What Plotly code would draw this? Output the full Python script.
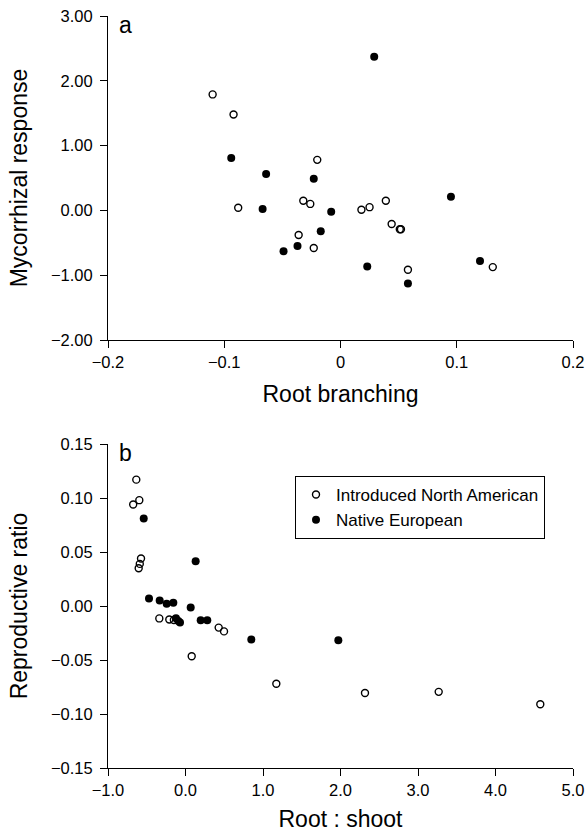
import plotly.graph_objects as go

# Panel a: Root branching vs Mycorrhizal response
a_intro_x = [-0.110, -0.092, -0.020, -0.032, -0.026, -0.088, 0.018, 0.025,
             -0.036, -0.023, 0.039, 0.044, 0.051, 0.052, 0.131, 0.058]
a_intro_y = [1.79, 1.48, 0.78, 0.15, 0.10, 0.04, 0.01, 0.05,
             -0.38, -0.58, 0.15, -0.21, -0.29, -0.29, -0.875, -0.915]
a_native_x = [0.029, -0.094, -0.064, -0.023, -0.067, -0.008, -0.017,
              -0.037, -0.049, 0.023, 0.095, 0.120, 0.058]
a_native_y = [2.37, 0.81, 0.56, 0.49, 0.02, -0.02, -0.32,
              -0.55, -0.63, -0.865, 0.21, -0.78, -1.13]

# Panel b: Root:shoot vs Reproductive ratio
b_intro_x = [-0.635, -0.596, -0.675, -0.574, -0.590, -0.604, -0.338, -0.209,
             -0.150, 0.080, 0.428, 0.497, 1.172, 2.316, 3.267, 4.578]
b_intro_y = [0.117, 0.098, 0.094, 0.044, 0.039, 0.035, -0.0115, -0.0125,
             -0.013, -0.0465, -0.020, -0.0235, -0.072, -0.0805, -0.0795, -0.091]
b_native_x = [-0.539, -0.471, -0.333, -0.243, -0.157, -0.123, -0.093, -0.071,
              0.067, 0.131, 0.196, 0.281, 0.849, 1.972]
b_native_y = [0.081, 0.007, 0.005, 0.002, 0.003, -0.0113, -0.0138, -0.0153,
              -0.0014, 0.0415, -0.0132, -0.0132, -0.031, -0.0317]

a_xticks = [-0.2, -0.1, 0, 0.1, 0.2]
a_yticks = [-2.0, -1.0, 0.0, 1.0, 2.0, 3.0]
b_xticks = [-1.0, 0.0, 1.0, 2.0, 3.0, 4.0, 5.0]
b_yticks = [-0.15, -0.10, -0.05, 0.0, 0.05, 0.10, 0.15]

names = ["Introduced North American", "Native European"]

FONT = "Liberation Sans, Arial, Helvetica, sans-serif"
open_marker = dict(symbol="circle-open", size=7, color="black", line=dict(width=1.4, color="black"))
filled_marker = dict(symbol="circle", size=8, color="black", line=dict(width=0))

fig = go.Figure()
fig.add_trace(go.Scatter(x=a_intro_x, y=a_intro_y, mode="markers", marker=open_marker,
                         name=names[0], showlegend=False, xaxis="x", yaxis="y"))
fig.add_trace(go.Scatter(x=a_native_x, y=a_native_y, mode="markers", marker=filled_marker,
                         name=names[1], showlegend=False, xaxis="x", yaxis="y"))
fig.add_trace(go.Scatter(x=b_intro_x, y=b_intro_y, mode="markers", marker=open_marker,
                         name=names[0], xaxis="x2", yaxis="y2"))
fig.add_trace(go.Scatter(x=b_native_x, y=b_native_y, mode="markers", marker=filled_marker,
                         name=names[1], xaxis="x2", yaxis="y2"))

axis_common = dict(showgrid=False, zeroline=False, showline=True, linecolor="black", linewidth=1,
                   ticks="outside", ticklen=7, tickwidth=1, tickcolor="black", automargin=False,
                   tickfont=dict(size=16.5, color="black", family=FONT),
                   title_font=dict(size=23, color="black", family=FONT))

top = 1.0
a_bottom = (768 - 340) / 752
b_top = (768 - 444) / 752

def lab(v, fmt):
    return ("−" if v < 0 else "") + format(abs(v), fmt)

fig.update_layout(
    width=588, height=832,
    margin=dict(l=108, r=15, t=16, b=64),
    paper_bgcolor="white", plot_bgcolor="white",
    font=dict(family=FONT, color="black"),
    xaxis=dict(domain=[0, 1], anchor="y", range=[-0.2, 0.2], tickmode="array",
               tickvals=a_xticks, ticktext=[lab(v, "g") for v in a_xticks],
               title=dict(text="Root branching", standoff=16), **axis_common),
    yaxis=dict(domain=[a_bottom, top], anchor="x", range=[-2.0, 3.0], tickmode="array",
               tickvals=a_yticks, ticktext=[lab(v, ".2f") for v in a_yticks],
               ticklabelstandoff=4,
               title=dict(text="Mycorrhizal response", standoff=16), **axis_common),
    xaxis2=dict(domain=[0, 1], anchor="y2", range=[-1.0, 5.0], tickmode="array",
                tickvals=b_xticks, ticktext=[lab(v, ".1f") for v in b_xticks],
                title=dict(text="Root : shoot", standoff=16), **axis_common),
    yaxis2=dict(domain=[0, b_top], anchor="x2", range=[-0.15, 0.15], tickmode="array",
                tickvals=b_yticks, ticktext=[lab(v, ".2f") for v in b_yticks],
                ticklabelstandoff=4,
                title=dict(text="Reproductive ratio", standoff=16), **axis_common),
    legend=dict(x=(295 - 108) / 465, y=(768 - 476) / 752, xanchor="left", yanchor="top",
                bordercolor="black", borderwidth=1, bgcolor="white",
                font=dict(size=17, color="black", family=FONT),
                itemsizing="trace", tracegroupgap=0),
    annotations=[
        dict(text="a", xref="x domain", yref="y domain", x=0.02, y=1.02, xanchor="left", yanchor="top",
             showarrow=False, font=dict(size=23, color="black", family=FONT)),
        dict(text="b", xref="x2 domain", yref="y2 domain", x=0.02, y=1.02, xanchor="left", yanchor="top",
             showarrow=False, font=dict(size=23, color="black", family=FONT)),
    ],
)

fig.write_html("out.html", config={"displayModeBar": False},
               post_script="document.body.style.margin='0';document.body.style.overflow='hidden';")
